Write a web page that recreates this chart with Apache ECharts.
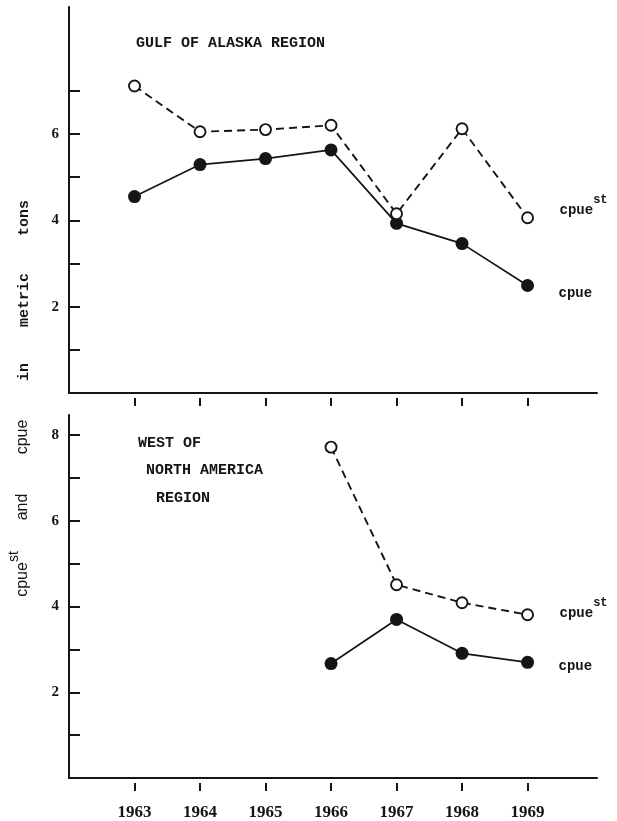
<!DOCTYPE html>
<html>
<head>
<meta charset="utf-8">
<script src="https://cdn.jsdelivr.net/npm/echarts@6/dist/echarts.min.js"></script>
<style>
  html, body { margin: 0; padding: 0; background: #fff; }
  #main { width: 617px; height: 821px; }
</style>
</head>
<body>
<div id="main"></div>
<script>
// data
var years = [1963, 1964, 1965, 1966, 1967, 1968, 1969];
var gulfCpueSt = [7.11, 6.05, 6.1, 6.2, 4.15, 6.12, 4.06];
var gulfCpue = [4.55, 5.29, 5.43, 5.63, 3.93, 3.46, 2.49];
var westYears = [1966, 1967, 1968, 1969];
var westCpueSt = [7.72, 4.51, 4.09, 3.81];
var westCpue = [2.67, 3.70, 2.91, 2.70];
var topTicks = [1, 2, 3, 4, 5, 6, 7];
var topLabels = [2, 4, 6];
var bottomTicks = [1, 2, 3, 4, 5, 6, 7, 8];
var bottomLabels = [2, 4, 6, 8];

var ink = '#151515';
var mono = '"Liberation Mono", "DejaVu Sans Mono", monospace';
var serif = '"Liberation Serif", "DejaVu Serif", serif';
var sans = '"Liberation Sans", "DejaVu Sans", sans-serif';

function pairs(xs, ys) {
  return xs.map(function (x, i) { return [x, ys[i]]; });
}

var supRich = {
  a: { fontFamily: mono, fontSize: 14, fontWeight: 'bold', color: ink, lineHeight: 23, verticalAlign: 'bottom' },
  b: { fontFamily: mono, fontSize: 12, fontWeight: 'bold', color: ink, lineHeight: 14, verticalAlign: 'top' }
};

function openSeries(x, y, xi, offY) {
  return {
    type: 'line', xAxisIndex: xi, yAxisIndex: xi / 2, data: pairs(x, y),
    symbol: 'circle', symbolSize: 11,
    itemStyle: { color: '#fff', borderColor: ink, borderWidth: 1.9 },
    lineStyle: { color: ink, width: 1.9, type: [8, 5] },
    endLabel: { show: true, distance: 32, offset: [0, offY], formatter: '{a|cpue}{b|st}', rich: supRich },
    z: 3, animation: false
  };
}
function filledSeries(x, y, xi, offY) {
  return {
    type: 'line', xAxisIndex: xi, yAxisIndex: xi / 2, data: pairs(x, y),
    symbol: 'circle', symbolSize: 13,
    itemStyle: { color: ink },
    lineStyle: { color: ink, width: 1.7 },
    endLabel: { show: true, distance: 31, offset: [0, offY], formatter: 'cpue',
      fontFamily: mono, fontSize: 14, fontWeight: 'bold', color: ink },
    z: 2, animation: false
  };
}

function lineAxis(gi) {
  return {
    type: 'value', gridIndex: gi, min: 1962, max: 1970.06, position: 'bottom',
    axisLine: { show: true, lineStyle: { color: ink, width: 2 } },
    axisTick: { show: false }, axisLabel: { show: false }, splitLine: { show: false }
  };
}
function tickAxis(gi, labels) {
  return {
    type: 'value', gridIndex: gi, min: 1962, max: 1970.06, position: 'bottom', offset: 5,
    axisLine: { show: false },
    axisTick: { show: true, customValues: years, length: 8, lineStyle: { color: ink, width: 2 } },
    axisLabel: { show: labels, customValues: years, margin: 21, color: ink,
      formatter: function (v) { return String(v); },
      fontFamily: serif, fontSize: 17, fontWeight: 'bold' },
    splitLine: { show: false }
  };
}
function yAxis(gi, max, ticks, labels) {
  return {
    type: 'value', gridIndex: gi, min: 0, max: max,
    axisLine: { show: true, lineStyle: { color: ink, width: 2 } },
    axisTick: { show: true, inside: true, customValues: ticks, length: 11, lineStyle: { color: ink, width: 2 } },
    axisLabel: { customValues: labels, margin: 10, color: ink, fontFamily: serif, fontSize: 15, fontWeight: 'bold' },
    splitLine: { show: false }
  };
}

function word(text, x, y, family, weight, size) {
  return { type: 'text', x: x, y: y, rotation: Math.PI / 2,
    style: { text: text, align: 'center', verticalAlign: 'middle', fill: ink,
      font: weight + ' ' + size + 'px ' + family } };
}
function title(text, x, y) {
  return { type: 'text', x: x, y: y,
    style: { text: text, align: 'left', verticalAlign: 'middle', fill: ink,
      font: 'bold 15px ' + mono } };
}

var chart = echarts.init(document.getElementById('main'));
chart.setOption({
  backgroundColor: '#fff',
  animation: false,
  grid: [
    { left: 69, right: 20, top: 7, height: 386 },
    { left: 69, right: 20, top: 415, height: 364 }
  ],
  xAxis: [lineAxis(0), tickAxis(0, false), lineAxis(1), tickAxis(1, true)],
  yAxis: [yAxis(0, 8.94, topTicks, topLabels), yAxis(1, 8.47, bottomTicks, bottomLabels)],
  series: [
    openSeries(years, gulfCpueSt, 0, -12),
    filledSeries(years, gulfCpue, 0, 8),
    openSeries(westYears, westCpueSt, 2, -6),
    filledSeries(westYears, westCpue, 2, 4)
  ],
  graphic: [
    title('GULF OF ALASKA REGION', 136, 43),
    title('WEST OF', 138, 443),
    title('NORTH AMERICA', 146, 470),
    title('REGION', 156, 498),
    word('tons', 24, 218, mono, 'bold', 15),
    word('metric', 24, 300, mono, 'bold', 15),
    word('in', 24, 372, mono, 'bold', 15),
    word('cpue', 23, 437, sans, 'normal', 16),
    word('and', 23, 507, sans, 'normal', 16),
    { type: 'text', x: 19, y: 574, rotation: Math.PI / 2,
      style: { text: '{a|cpue}{b|st}', align: 'center', verticalAlign: 'middle',
        rich: {
          a: { fontFamily: sans, fontSize: 16, fill: ink, lineHeight: 23, verticalAlign: 'bottom' },
          b: { fontFamily: sans, fontSize: 14, fill: ink, lineHeight: 15, verticalAlign: 'top' }
        } } }
  ]
});
</script>
</body>
</html>
